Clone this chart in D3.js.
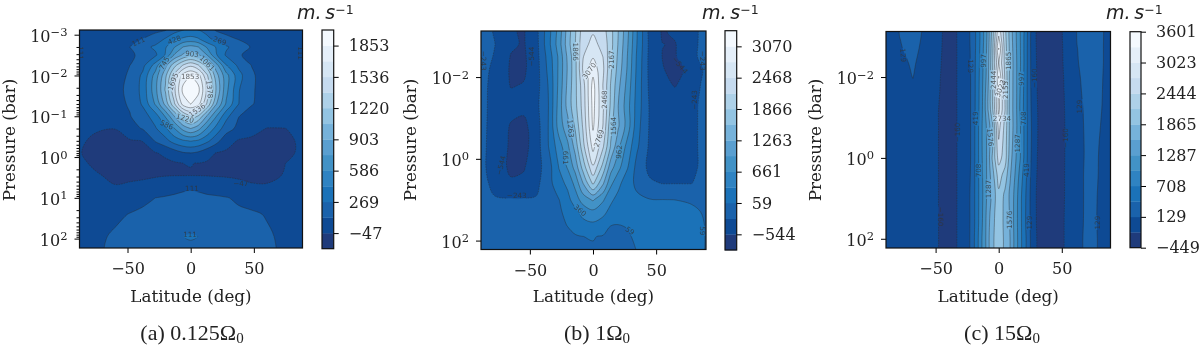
<!DOCTYPE html>
<html lang="en">
<head>
<meta charset="utf-8">
<script src="https://cdnjs.cloudflare.com/ajax/libs/d3/7.8.5/d3.min.js"></script>
<style>
  html, body { margin: 0; background: #fff; }
  svg { display: block; filter: blur(0.45px); }
  .tick text, .cb text { font-family: "DejaVu Serif"; font-size: 16px; fill: #222; }
  .axis-title { font-family: "DejaVu Serif"; font-size: 16.8px; fill: #222; text-anchor: middle; }
  .caption { font-family: "Liberation Serif"; font-size: 22px; fill: #222; text-anchor: middle; }
  .unit { font-family: "DejaVu Sans"; font-style: italic; font-size: 19px; fill: #222; }
  .clabel { font-family: "DejaVu Sans"; font-size: 7.2px; fill: #333; opacity: .75; text-anchor: middle; dominant-baseline: central; }
  .fill path { fill-rule: evenodd; stroke: none; }
  .lines path { fill: none; stroke: #2a2a2a; stroke-opacity: .62; stroke-width: .65; }
</style>
</head>
<body>
<script>
var width = 1200, height = 345;

// colour of each band, bottom of the colorbar to the top
var bandColors = ['#1f3b7b', '#0e4a94', '#1a62ab', '#1b72b8', '#2f83c2', '#4292c6', '#5a9fd0',
                  '#76b2da', '#93c4e2', '#aed1e8', '#c6dbef', '#d6e6f4', '#e5eff9', '#f4f9fe'];

// (a) 0.125 Omega0
var levelsA = [-205, -47, 111, 269, 428, 586, 745, 903, 1061, 1220, 1378, 1536, 1695, 1853, 2011];
var cbarTicksA = [-47, 269, 586, 903, 1220, 1536, 1853];
var latsA = [-92, -75, -60, -48, -38, -28, -20, -13, -6, 0, 6, 13, 20, 28, 38, 48, 60, 75, 92];
var logPA = [-3.3, -3.1, -2.9, -2.7, -2.5, -2.25, -2, -1.65, -1.3, -1, -0.7, -0.4, -0.1, 0.15, 0.45, 0.7, 1, 1.4, 1.95, 2.4];
var valuesA = [
  [20,25,30,35,40,50,60,85,130,200,130,90,60,50,40,35,30,25,20],
  [20,25,35,45,60,85,112,220,280,300,280,230,105,70,45,35,30,25,20],
  [20,30,50,85,112,170,280,380,450,480,440,300,230,150,100,70,40,25,20],
  [20,35,70,112,210,300,410,570,745,790,745,560,420,290,190,100,60,30,20],
  [20,35,60,95,135,240,440,760,930,1000,930,745,450,250,120,85,50,30,20],
  [15,35,60,111,220,490,850,1160,1390,1500,1390,1150,820,440,230,110,60,30,20],
  [15,35,70,125,300,650,1020,1420,1760,1855,1760,1400,980,650,330,125,70,35,20],
  [15,35,80,135,320,690,1080,1500,1900,2000,1900,1500,1060,640,280,125,65,30,15],
  [15,30,70,125,290,600,950,1350,1760,1855,1760,1350,920,570,270,120,60,25,15],
  [10,20,40,105,190,350,600,900,1200,1330,1200,880,600,320,115,60,30,15,10],
  [-10,-40,-46,60,120,250,400,580,800,903,800,570,380,180,70,0,-50,-48,-10],
  [-30,-60,-65,-60,-45,125,215,340,410,440,410,310,170,20,-60,-70,-70,-60,-30],
  [-35,-70,-80,-80,-70,-55,-20,30,95,111,80,0,-50,-70,-80,-85,-85,-60,-30],
  [-25,-60,-85,-90,-90,-85,-75,-60,-47,-46,-48,-60,-75,-85,-95,-95,-85,-47,-20],
  [0,-40,-62,-62,-60,-56,-52,-50,-50,-49,-50,-52,-56,-58,-60,-65,-65,-42,-10],
  [15,0,-45,-38,-30,-10,15,50,75,85,75,50,30,5,-25,-40,-42,-10,10],
  [30,35,45,60,80,111,125,135,145,150,145,135,130,118,90,70,50,35,30],
  [40,60,90,115,135,150,160,165,175,180,175,165,160,150,135,125,105,60,40],
  [50,90,125,150,170,190,210,235,268,280,268,235,210,190,170,150,125,90,50],
  [55,95,130,150,170,185,200,210,220,225,220,210,200,185,170,150,125,95,55]
];
var labelsA = [
  [-41.4,-2.83,'111',-25], [-13,-2.87,'428',-20], [23,-2.85,'269',20], [1,-2.53,'903',5],
  [-21,-2.3,'745',-60], [13,-2.3,'1061',45], [-14,-1.85,'1695',-70], [-0.5,-1.97,'1853',0],
  [15,-1.66,'1378',85], [5,-1.15,'1536',-35], [-4.5,-0.95,'1220',15], [-19,-0.79,'586',25],
  [1,0.77,'111',0], [39.6,0.65,'\u221247',0], [-0.5,1.91,'111',0],
  [-87,-2.55,'111',90], [87,-2.55,'111',90]
];

// (b) 1 Omega0
var levelsB = [-845, -544, -243, 59, 360, 661, 962, 1263, 1564, 1866, 2167, 2468, 2769, 3070, 3371];
var cbarTicksB = [-544, 59, 661, 1263, 1866, 2468, 3070];
var latsB = [-92, -78, -65, -55, -45, -35, -27, -20, -14, -8, 0, 8, 14, 20, 27, 35, 45, 55, 65, 78, 92];
var logPB = [-3.4, -3.1, -2.8, -2.5, -2.2, -1.8, -1.3, -0.8, -0.3, 0.2, 0.6, 1, 1.3, 1.6, 1.9, 2.4];
var valuesB = [
  [-100,-260,-530,-580,-340,250,770,1390,1820,2250,2400,2250,1950,1550,1050,350,-350,-580,-510,-320,-120],
  [-100,-260,-520,-570,-340,260,780,1400,1840,2320,2450,2300,1970,1564,1060,360,-350,-570,-500,-320,-120],
  [-80,-235,-500,-570,-360,280,820,1430,1860,2380,2540,2390,1980,1540,1020,340,-330,-540,-560,-320,-110],
  [-90,-260,-560,-590,-370,190,720,1330,1800,2450,2740,2460,1950,1500,980,300,-340,-550,-570,-310,-110],
  [-100,-300,-580,-590,-380,150,720,1300,1790,2500,2960,2520,1930,1450,950,280,-340,-530,-620,-470,-110],
  [-120,-320,-560,-530,-370,90,740,1340,1790,2330,3180,2450,1850,1350,880,250,-320,-470,-560,-380,-110],
  [-130,-320,-440,-470,-330,70,790,1380,1780,2280,3170,2500,1810,1263,800,220,-280,-350,-390,-320,-110],
  [-130,-330,-570,-620,-390,80,800,1150,1620,2200,3120,2450,1650,1300,850,170,-280,-400,-390,-320,-100],
  [-130,-340,-590,-640,-400,70,520,900,1380,2050,2880,2200,1540,1040,560,100,-300,-380,-380,-320,-100],
  [-130,-350,-610,-570,-380,-60,370,700,1080,1680,2430,1750,1100,760,400,-50,-320,-380,-370,-320,-100],
  [-130,-300,-500,-480,-320,-50,260,420,760,1250,1920,1300,730,450,170,0,-200,-250,-250,-248,-120],
  [-130,-225,-220,-220,-220,-100,50,280,500,800,1000,700,420,260,170,110,70,62,58,40,20],
  [-130,-170,-170,-160,-130,-90,10,150,290,450,590,440,270,180,130,120,120,120,110,90,30],
  [-130,-160,-160,-150,-130,-100,-40,80,200,280,310,230,70,62,75,130,140,140,130,110,40],
  [-130,-150,-150,-150,-130,-110,-70,-20,30,58,70,40,-10,-30,30,100,140,150,140,120,40],
  [-130,-140,-140,-140,-120,-100,-80,-40,-10,10,20,0,-30,-40,-20,50,140,150,140,110,30]
];
var labelsB = [
  [-13.5,-2.62,'1866',90], [14.8,-2.43,'2167',-90], [-48.5,-2.5,'\u2212544',-90], [68.9,-2.29,'\u2212544',50],
  [-3,-2.15,'3070',-55], [9.5,-1.45,'2468',-90], [80.7,-1.44,'\u2212243',-90], [-17.7,-0.74,'1263',85],
  [16,-0.8,'1564',-90], [4.7,-0.5,'2769',-70], [20.6,-0.17,'962',-85], [-21.4,-0.03,'661',90],
  [-72.8,0.16,'\u2212544',-75], [-60.4,0.9,'\u2212243',0], [-10.3,1.26,'360',40], [29.3,1.76,'59',35],
  [86.8,1.76,'59',90], [-87,-2.4,'\u2212243',90], [87,-2.4,'\u2212243',90]
];

// (c) 15 Omega0
var levelsC = [-449, -160, 129, 419, 708, 997, 1287, 1576, 1865, 2155, 2444, 2734, 3023, 3312, 3601];
var cbarTicksC = [-449, 129, 708, 1287, 1865, 2444, 3023, 3601];
var latsC = [-92, -78, -68, -58, -48, -40, -33, -27, -22, -17, -13, -9, -5, 0, 5, 9, 13, 17, 22, 27, 33, 42, 52, 62, 72, 82, 92];
var logPC = [-3.4, -3, -2.7, -2.35, -2, -1.6, -1.2, -0.8, -0.3, 0, 0.4, 0.9, 1.5, 2.4];
var valuesC = [
  [60,135,210,95,-100,-240,-158,30,150,500,860,1300,1900,2800,2200,1700,1350,1000,500,-70,-280,-330,-130,135,225,135,80],
  [60,132,200,90,-105,-240,-158,30,150,510,870,1330,2000,3030,2250,1750,1370,1010,500,-70,-280,-330,-130,135,220,135,80],
  [55,118,175,80,-110,-245,-158,25,145,520,900,1360,2050,3330,2300,1780,1390,1020,490,-60,-275,-330,-135,125,205,135,75],
  [50,90,150,60,-120,-250,-158,25,140,540,920,1380,2100,3050,2350,1800,1410,1030,490,-50,-270,-330,-140,120,190,135,75],
  [50,70,132,40,-130,-260,-158,20,135,550,950,1400,2150,3330,2400,1780,1420,1010,480,-40,-265,-325,-150,110,180,132,75],
  [50,55,95,-10,-140,-270,-158,20,135,555,970,1480,2150,3100,2430,1760,1430,980,475,-20,-255,-320,-158,105,170,130,75],
  [50,40,0,-60,-155,-280,-158,20,135,560,980,1500,2100,3100,2450,1750,1430,960,470,0,-250,-320,-165,100,160,128,80],
  [45,35,-5,-65,-155,-285,-158,20,135,590,1010,1360,1800,2850,2350,1780,1430,1020,480,30,-255,-320,-170,100,155,125,78],
  [45,35,-10,-70,-155,-290,-158,20,135,600,1010,1340,1800,2680,2300,1750,1380,1030,480,20,-260,-325,-170,95,155,120,75],
  [40,30,-10,-70,-155,-290,-158,20,135,600,1000,1340,1900,2560,2300,1700,1350,1010,480,0,-265,-325,-170,95,155,118,70],
  [40,30,-10,-70,-155,-290,-158,20,140,600,980,1340,1750,2300,2050,1620,1280,900,430,-30,-270,-330,-165,95,160,115,65],
  [40,30,-5,-70,-155,-290,-158,20,150,600,960,1340,1650,2100,1800,1520,1200,800,380,-60,-275,-330,-165,92,162,108,60],
  [40,30,0,-70,-155,-290,-158,20,150,600,980,1400,1780,2030,1790,1550,1170,800,360,-50,-280,-330,-158,90,165,102,60],
  [40,30,0,-70,-155,-290,-158,20,150,600,980,1400,1800,2000,1800,1550,1150,800,350,-50,-280,-330,-158,90,165,100,60]
];
var labelsC = [
  [-75.7,-2.54,'129',85], [-22.4,-2.27,'129',90], [-12.4,-2.4,'997',-90], [7.9,-2.4,'1865',-90],
  [-4.5,-1.93,'2444',-90], [17.7,-1.95,'997',-90], [28.5,-1.97,'\u2212160',-90], [5.3,-1.68,'2155',-90],
  [1.3,-1.72,'3023',-70], [64.1,-1.27,'129',-90], [-18.5,-0.98,'419',-90], [19.3,-0.98,'708',-90],
  [2.6,-0.98,'2734',0], [-33,-0.63,'\u2212160',-90], [-6.6,-0.51,'1576',85], [15,-0.36,'1287',-90],
  [52.8,-0.49,'\u2212160',-90], [-15.8,0.31,'708',-90], [22.4,0.3,'419',-90], [-7.9,0.77,'1287',-90],
  [-46.2,1.45,'\u2212160',90], [8.4,1.53,'1576',-90], [24.5,1.6,'129',-90], [78.6,1.6,'129',-90]
];

var latTicks = [-50, 0, 50];
var pressureTicksA = [1e-3, 1e-2, 1e-1, 1, 10, 100];
var pressureTicksBC = [1e-2, 1, 100];
var minorTicksA = [];
for (var k = -3; k < 3; k++) {
  [2, 3, 4, 5, 6, 7, 8, 9].forEach(function (m) { minorTicksA.push(m * Math.pow(10, k)); });
}

var panels = [
  { id: 'a', box: [79.5, 302.5, 30, 248], latLim: [-88, 88.5], logLim: [-3.115, 2.23], cbar: [322, 333.7, 30, 248.7],
    lats: latsA, logP: logPA, values: valuesA, levels: levelsA, cbarTicks: cbarTicksA, labels: labelsA,
    pTicks: pressureTicksA, minor: minorTicksA, caption: '(a) 0.125\u03A9', titleX: 9, unitX: 297, captionX: 192 },
  { id: 'b', box: [481, 706, 31, 249.5], latLim: [-88.7, 89.5], logLim: [-3.127, 2.218], cbar: [725, 736.7, 30.7, 250],
    lats: latsB, logP: logPB, values: valuesB, levels: levelsB, cbarTicks: cbarTicksB, labels: labelsB,
    pTicks: pressureTicksBC, minor: [], caption: '(b) 1\u03A9', titleX: 410, unitX: 702, captionX: 597 },
  { id: 'c', box: [886, 1110.5, 31.5, 248], latLim: [-89.3, 88.6], logLim: [-3.126, 2.228], cbar: [1130, 1141, 31.7, 247.7],
    lats: latsC, logP: logPC, values: valuesC, levels: levelsC, cbarTicks: cbarTicksC, labels: labelsC,
    pTicks: pressureTicksBC, minor: [], caption: '(c) 15\u03A9', titleX: 815, unitX: 1106, captionX: 1002 }
];

var svg = d3.select('body').append('svg').attr('width', width).attr('height', height);

function supers(n) {
  return String(Math.round(Math.log10(n))).replace('-', '\u2212');
}

panels.forEach(function (p) {
  var x = d3.scaleLinear().domain(p.latLim).range([p.box[0], p.box[1]]);
  var y = d3.scaleLog().domain([Math.pow(10, p.logLim[0]), Math.pow(10, p.logLim[1])]).range([p.box[2], p.box[3]]);

  // grid index -> data, the grid is not evenly spaced
  var colToLat = d3.scaleLinear().domain(d3.range(p.lats.length)).range(p.lats);
  var rowToLog = d3.scaleLinear().domain(d3.range(p.logP.length)).range(p.logP);
  var nCols = p.lats.length, nRows = p.logP.length;

  var contours = d3.contours().size([nCols, nRows]).thresholds(p.levels)(d3.merge(p.values));

  var ringPath = d3.line()
    .x(function (c) { return x(colToLat(c[0] - 0.5)); })
    .y(function (c) { return y(Math.pow(10, rowToLog(c[1] - 0.5))); })
    .curve(d3.curveCatmullRomClosed.alpha(0.5));

  function contourPath(c) {
    return c.coordinates.map(function (poly) {
      return poly.map(function (ring) { return ringPath(ring.slice(0, -1)); }).join('');
    }).join('');
  }

  var defs = svg.append('defs');
  defs.append('clipPath').attr('id', 'clip-' + p.id).append('rect')
    .attr('x', p.box[0]).attr('y', p.box[2])
    .attr('width', p.box[1] - p.box[0]).attr('height', p.box[3] - p.box[2]);

  // gaps in the lines under the inline labels
  var mask = defs.append('mask').attr('id', 'gaps-' + p.id).attr('maskUnits', 'userSpaceOnUse')
    .attr('x', 0).attr('y', 0).attr('width', width).attr('height', height);
  mask.append('rect').attr('width', width).attr('height', height).attr('fill', '#fff');
  mask.selectAll('rect.gap').data(p.labels).enter().append('rect')
    .attr('class', 'gap').attr('fill', '#000')
    .attr('x', function (d) { return -d[2].length * 2.3 - 0.5; }).attr('y', -3.5)
    .attr('width', function (d) { return d[2].length * 4.6 + 1; }).attr('height', 7)
    .attr('transform', function (d) {
      return 'translate(' + x(d[0]) + ',' + y(Math.pow(10, d[1])) + ') rotate(' + d[3] + ')';
    });

  var plot = svg.append('g').attr('clip-path', 'url(#clip-' + p.id + ')');
  plot.append('rect')
    .attr('x', p.box[0]).attr('y', p.box[2])
    .attr('width', p.box[1] - p.box[0]).attr('height', p.box[3] - p.box[2])
    .attr('fill', bandColors[0]);

  plot.append('g').attr('class', 'fill').selectAll('path')
    .data(contours.slice(0, bandColors.length))
    .enter().append('path')
    .attr('d', contourPath)
    .style('fill', function (d, i) { return bandColors[i]; });

  plot.append('g').attr('class', 'lines').attr('mask', 'url(#gaps-' + p.id + ')').selectAll('path')
    .data(contours.slice(1, bandColors.length))
    .enter().append('path')
    .attr('d', contourPath)
    .attr('stroke-dasharray', function (d) { return d.value < 0 ? '1.6,1' : null; });

  plot.append('g').selectAll('text').data(p.labels).enter().append('text')
    .attr('class', 'clabel')
    .attr('transform', function (d) {
      return 'translate(' + x(d[0]) + ',' + y(Math.pow(10, d[1])) + ') rotate(' + d[3] + ')';
    })
    .text(function (d) { return d[2]; });

  // axes
  var xAxis = svg.append('g').attr('transform', 'translate(0,' + p.box[3] + ')')
    .call(d3.axisBottom(x).tickValues(latTicks).tickSize(5).tickPadding(10)
      .tickFormat(function (d) { return String(d).replace('-', '\u2212'); }));
  xAxis.select('.domain').remove();

  var yAxis = svg.append('g').attr('transform', 'translate(' + p.box[0] + ',0)')
    .call(d3.axisLeft(y).tickValues(p.pTicks).tickSize(5).tickPadding(7).tickFormat(function () { return '10'; }));
  yAxis.select('.domain').remove();
  yAxis.selectAll('.tick text').append('tspan')
    .attr('dy', '-0.5em').style('font-size', '11.5px')
    .text(supers);
  yAxis.selectAll('.tick text').attr('dy', '0.42em');

  if (p.minor.length) {
    var minorAxis = svg.append('g').attr('transform', 'translate(' + p.box[0] + ',0)')
      .call(d3.axisLeft(y).tickValues(p.minor.filter(function (v) {
        var l = Math.log10(v);
        return l > p.logLim[0] && l < p.logLim[1];
      })).tickSize(3).tickFormat(''));
    minorAxis.select('.domain').remove();
  }

  svg.append('rect')
    .attr('x', p.box[0]).attr('y', p.box[2])
    .attr('width', p.box[1] - p.box[0]).attr('height', p.box[3] - p.box[2])
    .attr('fill', 'none').attr('stroke', '#111').attr('stroke-width', 1.2);

  svg.append('text').attr('class', 'axis-title')
    .attr('x', (p.box[0] + p.box[1]) / 2).attr('y', 302)
    .text('Latitude (deg)');
  svg.append('text').attr('class', 'axis-title')
    .attr('transform', 'translate(' + (p.titleX + 5.5) + ',140) rotate(-90)')
    .text('Pressure (bar)');

  var cap = svg.append('text').attr('class', 'caption').attr('x', p.captionX).attr('y', 340).text(p.caption);
  cap.append('tspan').attr('dy', 3).style('font-size', '15px').text('0');

  // colorbar
  var cb = svg.append('g').attr('class', 'cb');
  var cy = d3.scaleLinear().domain([p.levels[0], p.levels[p.levels.length - 1]]).range([p.cbar[3], p.cbar[2]]);
  cb.selectAll('rect.band').data(d3.pairs(p.levels)).enter().append('rect')
    .attr('class', 'band')
    .attr('x', p.cbar[0]).attr('width', p.cbar[1] - p.cbar[0])
    .attr('y', function (d) { return cy(d[1]); })
    .attr('height', function (d) { return cy(d[0]) - cy(d[1]) + 0.3; })
    .attr('fill', function (d, i) { return bandColors[i]; });
  var cbAxis = cb.append('g').attr('transform', 'translate(' + p.cbar[1] + ',0)')
    .call(d3.axisRight(cy).tickValues(p.cbarTicks).tickSize(5).tickPadding(10)
      .tickFormat(function (d) { return String(d).replace('-', '\u2212'); }));
  cbAxis.select('.domain').remove();
  cb.append('rect')
    .attr('x', p.cbar[0]).attr('y', p.cbar[2])
    .attr('width', p.cbar[1] - p.cbar[0]).attr('height', p.cbar[3] - p.cbar[2])
    .attr('fill', 'none').attr('stroke', '#111').attr('stroke-width', 1.2);

  var unit = svg.append('text').attr('class', 'unit').attr('x', p.unitX).attr('y', 19);
  unit.append('tspan').text('m.\u2009s');
  unit.append('tspan').attr('dy', -5).style('font-size', '12.5px').style('font-style', 'normal').text('\u22121');
});
</script>
</body>
</html>
